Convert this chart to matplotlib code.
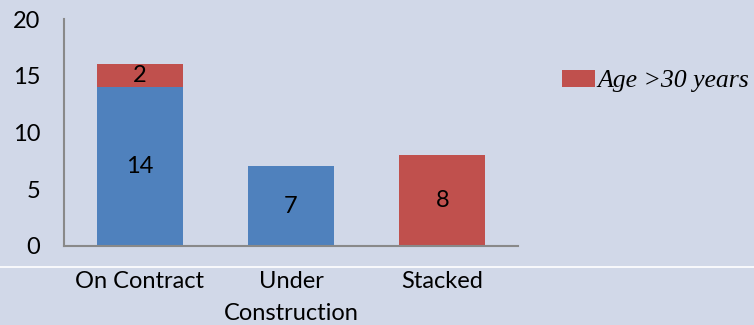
import matplotlib
matplotlib.use("Agg")
import matplotlib.pyplot as plt
from matplotlib.lines import Line2D
from matplotlib.patches import Patch
import numpy as np

categories = ["On Contract", "Under\nConstruction", "Stacked"]
young_vessels = [14, 7, 0]
old_vessels = [2, 0, 8]
legend_label = "Age >30 years"
y_ticks = [0, 5, 10, 15, 20]

BG = "#D1D8E8"
BLUE = "#4F81BD"
RED = "#C0504D"
SANS = ["Lato", "DejaVu Sans"]
FS = 17

fig = plt.figure(figsize=(7.54, 3.25), dpi=100, facecolor=BG)
ax = fig.add_axes([64 / 754, 1 - 245.7 / 325, 454 / 754, 226.7 / 325])
ax.set_facecolor(BG)

x = np.arange(len(categories))
width = 0.57
b1 = ax.bar(x, young_vessels, width, color=BLUE)
b2 = ax.bar(x, old_vessels, width, bottom=young_vessels, color=RED)

for rects, vals, bottoms in ((b1, young_vessels, [0] * 3), (b2, old_vessels, young_vessels)):
    for r, v, b in zip(rects, vals, bottoms):
        if v > 0:
            ax.text(r.get_x() + r.get_width() / 2, b + v / 2, str(v),
                    ha="center", va="center", fontsize=FS, family=SANS)

ax.set_xlim(-0.5, 2.5)
ax.set_ylim(0, 20)
ax.set_yticks(y_ticks)
ax.set_yticklabels([str(t) for t in y_ticks], family=SANS, fontsize=FS)
ax.set_xticks(x)
ax.set_xticklabels(categories, family=SANS, fontsize=FS, linespacing=1.6)
ax.tick_params(axis="both", length=0)
ax.tick_params(axis="y", pad=17)
ax.tick_params(axis="x", pad=18.5)

for s in ("top", "right"):
    ax.spines[s].set_visible(False)
for s in ("left", "bottom"):
    ax.spines[s].set_color("#898989")
    ax.spines[s].set_linewidth(1.5)

# Legend for the older vessels
leg_fs = 18.5
leg_px = leg_fs * 100 / 72
fig.legend(handles=[Patch(facecolor=RED, edgecolor="none")], labels=[legend_label],
           loc="center left", bbox_to_anchor=(562 / 754, 1 - 81 / 325),
           frameon=False, borderpad=0, borderaxespad=0,
           handlelength=33 / leg_px, handleheight=17 / leg_px, handletextpad=0.08,
           prop={"family": ["Liberation Serif", "DejaVu Serif"], "style": "italic", "size": leg_fs})

fig.add_artist(Line2D([0, 1], [1 - 267 / 325] * 2, color="white", lw=1.2,
                      transform=fig.transFigure))

fig.savefig("out.png", dpi=100, facecolor=BG)
